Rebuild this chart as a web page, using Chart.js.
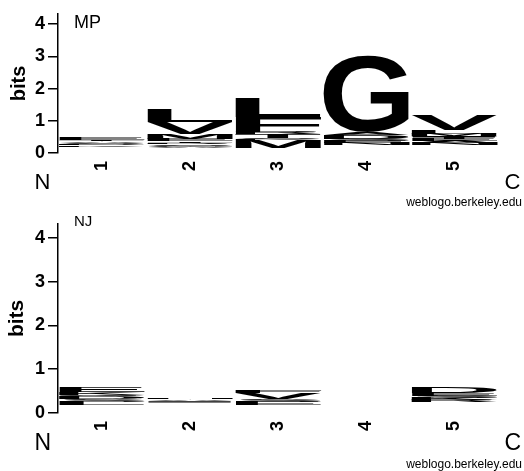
<!DOCTYPE html>
<html>
<head>
<meta charset="utf-8">
<script src="https://cdn.jsdelivr.net/npm/chart.js@4.4.1/dist/chart.umd.min.js"></script>
<style>
  body { margin: 0; background: #fff; }
  .panel { position: absolute; left: 0; width: 524px; }
</style>
</head>
<body>
<div class="panel" style="top:0;height:210px"><canvas id="mpChart"></canvas></div>
<div class="panel" style="top:210px;height:261px"><canvas id="njChart"></canvas></div>
<script>
const positions = ['1', '2', '3', '4', '5'];
const bitTicks = [0, 1, 2, 3, 4];
const maxBits = 4.32;

// letters per position, bottom of the stack first
const mpLetters = [
    ['W','C','H','M','Y','F','P','N','Q','R','K','D','S','A','T','E'],
    ['W','C','H','Y','F','Q','N','A','G','S','R','T','E','M','V','L'],
    ['W','C','H','Y','Q','N','D','M','K','S','T','R','F','L'],
    ['W','C','H','M','Y','F','I','V','L','Q','P','T','N','E','S','D','A','G'],
    ['W','C','H','Y','F','P','G','D','K','R','Q','S','N','A','E','T','I','M','L','V']
];
const mpHeights = [
    [.02,.02,.02,.02,.02,.02,.02,.02,.02,.02,.04,.04,.04,.04,.04,.08],
    [.02,.02,.02,.02,.02,.02,.02,.04,.04,.05,.05,.05,.08,.15,.37,.39],
    [.02,.02,.02,.02,.02,.02,.02,.25,.05,.04,.10,.06,.48,.58],
    [.02,.02,.02,.02,.02,.02,.02,.02,.02,.02,.02,.02,.06,.06,.06,.13,.09,2.36],
    [.02,.02,.02,.02,.02,.02,.02,.02,.02,.02,.02,.02,.06,.06,.06,.06,.05,.07,.12,.48]
];

const njLetters = [
    ['W','C','H','M','Y','F','P','N','I','L','S','D','Q','K','E'],
    ['W','C','M','Y','F','P','N','Q','D','K','R','G','I','A','H'],
    ['W','C','H','M','Y','P','N','Q','D','E','S','V','F'],
    [],
    ['W','C','H','M','Y','F','P','N','Q','G','T','I','R','K','S','E','D']
];
const njHeights = [
    [.02,.02,.02,.02,.02,.02,.02,.02,.02,.07,.07,.05,.05,.05,.12],
    [.02,.02,.02,.02,.02,.02,.02,.02,.02,.02,.02,.02,.03,.04,.04],
    [.02,.02,.02,.02,.02,.02,.02,.02,.02,.08,.07,.13,.05],
    [],
    [.02,.02,.02,.02,.02,.02,.02,.02,.02,.02,.02,.02,.05,.05,.05,.06,.13]
];

const FONT = '"Liberation Sans", Arial, Helvetica, sans-serif';

// one stacked dataset per layer of the logo
function buildDatasets(letters, heights) {
    const layers = Math.max(...letters.map(col => col.length));
    const datasets = [];
    for (let k = 0; k < layers; k++) {
        datasets.push({
            data: positions.map((p, i) => heights[i][k] || 0),
            letters: positions.map((p, i) => letters[i][k] || ''),
            backgroundColor: 'rgba(0,0,0,0)',
            borderWidth: 0,
            barPercentage: 0.97,
            categoryPercentage: 1
        });
    }
    return datasets;
}

// stretch each letter into its bar box
const letterPlugin = {
    id: 'logoLetters',
    afterDatasetsDraw(chart) {
        const ctx = chart.ctx;
        ctx.save();
        ctx.fillStyle = '#000';
        ctx.font = 'bold 200px ' + FONT;
        ctx.textAlign = 'left';
        ctx.textBaseline = 'alphabetic';
        chart.data.datasets.forEach((ds, di) => {
            const meta = chart.getDatasetMeta(di);
            meta.data.forEach((bar, i) => {
                const ch = ds.letters[i];
                if (!ch) return;
                const { x, y, base, width } = bar.getProps(['x', 'y', 'base', 'width'], true);
                const h = base - y;
                if (h < 1) return;
                const m = ctx.measureText(ch);
                const gw = m.actualBoundingBoxLeft + m.actualBoundingBoxRight;
                const gh = m.actualBoundingBoxAscent + m.actualBoundingBoxDescent;
                ctx.save();
                ctx.translate(x - width / 2, y);
                ctx.scale(width / gw, h / gh);
                ctx.fillText(ch, m.actualBoundingBoxLeft, m.actualBoundingBoxAscent);
                ctx.restore();
            });
        });
        ctx.restore();
    }
};

function labelPlugin(name, nameSize, nameY, endSize, endY, creditY) {
    return {
        id: 'logoLabels',
        afterDraw(chart) {
            const ctx = chart.ctx;
            ctx.save();
            ctx.fillStyle = '#000';
            ctx.textBaseline = 'alphabetic';
            ctx.textAlign = 'left';
            ctx.font = nameSize + 'px ' + FONT;
            ctx.fillText(name, 74, nameY);
            ctx.font = endSize + 'px ' + FONT;
            ctx.fillText('N', 34.5, endY);
            ctx.fillText('C', 504.5, endY);
            ctx.font = '12px ' + FONT;
            ctx.textAlign = 'right';
            ctx.fillText('weblogo.berkeley.edu', 522, creditY);
            ctx.restore();
        }
    };
}

function makeLogo(id, letters, heights, opts) {
    return new Chart(document.getElementById(id), {
        type: 'bar',
        data: {
            labels: positions,
            datasets: buildDatasets(letters, heights)
        },
        options: {
            responsive: true,
            maintainAspectRatio: false,
            animation: false,
            layout: { padding: { top: opts.padTop, right: 25.5, left: 0, bottom: 0 } },
            plugins: {
                legend: { display: false },
                tooltip: { enabled: false }
            },
            scales: {
                x: {
                    stacked: true,
                    grid: { display: false },
                    border: { display: false },
                    ticks: {
                        color: '#000',
                        font: { family: FONT, size: 18, weight: 'bold' },
                        minRotation: 90,
                        maxRotation: 90,
                        padding: 0
                    },
                    afterFit: s => { s.height = opts.xHeight; }
                },
                y: {
                    stacked: true,
                    min: 0,
                    max: maxBits,
                    afterBuildTicks: s => { s.ticks = bitTicks.map(v => ({ value: v })); },
                    grid: { drawOnChartArea: false, color: '#000', lineWidth: 1.5, tickLength: 10, tickWidth: 1.5 },
                    border: { color: '#000', width: 1.5 },
                    ticks: {
                        color: '#000',
                        font: { family: FONT, size: 18, weight: 'bold' },
                        padding: 3
                    },
                    title: {
                        display: true,
                        text: 'bits',
                        color: '#000',
                        font: { family: FONT, size: opts.titleSize, weight: 'bold' },
                        padding: { top: opts.titlePad, bottom: 0 }
                    },
                    afterFit: s => { s.width = 58; }
                }
            }
        },
        plugins: [letterPlugin, labelPlugin(opts.name, opts.nameSize, opts.nameY, opts.endSize, opts.endY, opts.creditY)]
    });
}

makeLogo('mpChart', mpLetters, mpHeights, {
    padTop: 10, xHeight: 57, titleSize: 20, titlePad: 7,
    name: 'MP', nameSize: 18, nameY: 28, endSize: 22, endY: 189, creditY: 206
});
makeLogo('njChart', njLetters, njHeights, {
    padTop: 2, xHeight: 58, titleSize: 21, titlePad: 5,
    name: 'NJ', nameSize: 15, nameY: 16, endSize: 23, endY: 240, creditY: 258
});
</script>
</body>
</html>
